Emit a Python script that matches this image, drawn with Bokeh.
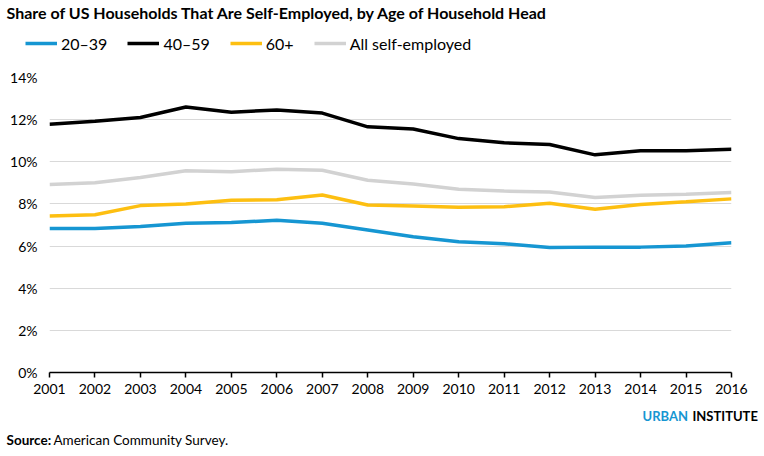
from bokeh.plotting import figure
from bokeh.layouts import column
from bokeh.models import (FixedTicker, PrintfTickFormatter, Legend, LegendItem, Label, Range1d)
from bokeh.embed import file_html
from bokeh.resources import INLINE

years = list(range(2001, 2017))
age_20_39 = [6.83, 6.83, 6.93, 7.08, 7.12, 7.22, 7.08, 6.76, 6.44, 6.20, 6.11, 5.93, 5.95, 5.95, 6.00, 6.16]
age_40_59 = [11.78, 11.92, 12.10, 12.60, 12.35, 12.46, 12.31, 11.66, 11.56, 11.10, 10.90, 10.82, 10.33, 10.52, 10.52, 10.60]
age_60_plus = [7.43, 7.49, 7.92, 8.00, 8.17, 8.20, 8.42, 7.95, 7.90, 7.84, 7.87, 8.03, 7.75, 7.97, 8.10, 8.24]
all_self = [8.92, 9.00, 9.25, 9.57, 9.53, 9.65, 9.60, 9.12, 8.95, 8.70, 8.61, 8.57, 8.30, 8.41, 8.46, 8.54]
series_names = ["20–39", "40–59", "60+", "All self-employed"]
series_colors = ["#1696d2", "#000000", "#fdbf11", "#d2d2d2"]
y_ticks = [0, 2, 4, 6, 8, 10, 12, 14]

W = 764
HEAD_H, MAIN_H, FOOT_H = 60, 340, 56
FONT = "Lato"
LW = 3.5


def blank_fig(h):
    f = figure(width=W, height=h, output_backend="svg", toolbar_location=None,
               x_range=Range1d(0, W), y_range=Range1d(0, h),
               x_axis_type=None, y_axis_type=None,
               min_border=0, min_border_left=0, min_border_right=0,
               min_border_top=0, min_border_bottom=0)
    f.frame_align = False
    f.outline_line_color = None
    f.grid.visible = False
    f.background_fill_color = "white"
    f.border_fill_color = "white"
    return f


# ---------- header: title + legend ----------
head = blank_fig(HEAD_H)
head.add_layout(Label(x=6, y=HEAD_H - 12, x_units="screen", y_units="screen",
                      text="Share of US Households That Are Self-Employed, by Age of Household Head",
                      text_font=FONT, text_font_style="bold", text_font_size="16px",
                      text_color="#000000", text_baseline="middle", text_align="left"))
legend_items = []
for name, col in zip(series_names, series_colors):
    # legend swatches only: kept outside the visible range of the header
    r = head.line(x=[-100, -90], y=[-100, -100], line_color=col, line_width=LW)
    legend_items.append(LegendItem(label=name, renderers=[r]))
legend = Legend(items=legend_items, orientation="horizontal", location=(25, HEAD_H - 53),
                glyph_width=32, glyph_height=20, label_height=20, label_standoff=4,
                spacing=20, padding=0, margin=0,
                label_text_font=FONT, label_text_font_size="16px", label_text_color="#000000",
                background_fill_alpha=0, border_line_color=None)
head.add_layout(legend, "center")

# ---------- main chart ----------
p = figure(width=W, height=MAIN_H, output_backend="svg", toolbar_location=None,
           x_range=Range1d(2001, 2016), y_range=Range1d(0, 14),
           min_border_left=49, min_border_right=33, min_border_top=17, min_border_bottom=28)
p.outline_line_color = None
p.background_fill_color = "white"
p.border_fill_color = "white"

p.xgrid.grid_line_color = None
p.ygrid.ticker = FixedTicker(ticks=y_ticks)
p.ygrid.grid_line_color = "#d9d9d9"
p.ygrid.grid_line_width = 1.2

p.yaxis.ticker = FixedTicker(ticks=y_ticks)
p.yaxis.formatter = PrintfTickFormatter(format="%d%%")
p.yaxis.axis_line_color = None
p.yaxis.major_tick_line_color = None
p.yaxis.major_tick_in = 0
p.yaxis.major_tick_out = 0
p.yaxis.minor_tick_line_color = None
p.yaxis.major_label_standoff = 12
p.yaxis.major_label_text_font = FONT
p.yaxis.major_label_text_font_size = "14px"
p.yaxis.major_label_text_color = "#000000"

p.xaxis.ticker = FixedTicker(ticks=years)
p.xaxis.formatter = PrintfTickFormatter(format="%d")
p.xaxis.axis_line_color = "#000000"
p.xaxis.axis_line_width = 1.5
p.xaxis.major_tick_line_color = "#000000"
p.xaxis.major_tick_line_width = 1.5
p.xaxis.major_tick_in = 0
p.xaxis.major_tick_out = 5
p.xaxis.minor_tick_line_color = None
p.xaxis.major_label_standoff = 6
p.xaxis.major_label_text_font = FONT
p.xaxis.major_label_text_font_size = "14px"
p.xaxis.major_label_text_color = "#000000"

p.line(years, all_self, line_color=series_colors[3], line_width=LW)
p.line(years, age_20_39, line_color=series_colors[0], line_width=LW)
p.line(years, age_60_plus, line_color=series_colors[2], line_width=LW)
p.line(years, age_40_59, line_color=series_colors[1], line_width=LW)

# ---------- footer ----------
foot = blank_fig(FOOT_H)
foot.add_layout(Label(x=642, y=FOOT_H - 15, x_units="screen", y_units="screen", text="URBAN",
                      text_font=FONT, text_font_style="bold", text_font_size="13px",
                      text_color="#1696d2", text_baseline="middle", text_align="left"))
foot.add_layout(Label(x=692, y=FOOT_H - 15, x_units="screen", y_units="screen", text="INSTITUTE",
                      text_font=FONT, text_font_style="bold", text_font_size="13px",
                      text_color="#000000", text_baseline="middle", text_align="left"))
foot.add_layout(Label(x=6, y=FOOT_H - 39, x_units="screen", y_units="screen", text="Source:",
                      text_font=FONT, text_font_style="bold", text_font_size="13.5px",
                      text_color="#000000", text_baseline="middle", text_align="left"))
foot.add_layout(Label(x=53, y=FOOT_H - 39, x_units="screen", y_units="screen",
                      text="American Community Survey.",
                      text_font=FONT, text_font_size="13.5px",
                      text_color="#000000", text_baseline="middle", text_align="left"))

layout = column(head, p, foot, spacing=0)
open("out.html", "w").write(file_html(layout, INLINE))
